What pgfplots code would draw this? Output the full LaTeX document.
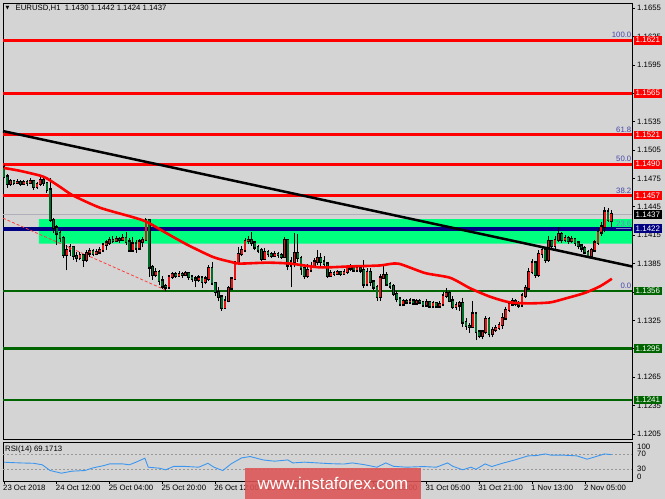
\documentclass[border=0pt]{standalone}
\usepackage{pgfplots}
\pgfplotsset{compat=1.18}
\usepackage{pgfplotstable}
\usepackage{fontspec}
\setmainfont{Liberation Sans}
\newfontfamily\dejavu{DejaVu Sans}
\definecolor{bg}{RGB}{212,212,212}
\definecolor{mtred}{RGB}{255,0,0}
\definecolor{mtgreen}{RGB}{0,100,0}
\definecolor{mtnavy}{RGB}{0,0,128}
\definecolor{spring}{RGB}{0,255,127}
\definecolor{bull}{RGB}{230,20,20}
\definecolor{bear}{RGB}{0,110,40}
\definecolor{fib}{RGB}{70,70,170}
\definecolor{rsiblue}{RGB}{60,150,240}
\definecolor{wm}{RGB}{222,84,84}
\definecolor{bidline}{RGB}{176,176,188}
\newcommand{\tfont}{\fontsize{7.8}{8.5}\selectfont}
\tikzset{
  fibl/.style={anchor=south east, text=fib, font=\tfont, inner sep=0.5bp, yshift=1.5bp},
  pbox/.style={anchor=west, fill=#1, text=white, font=\fontsize{8}{9}\selectfont, inner xsep=2bp, inner ysep=1.5bp, xshift=1.5bp},
}

\pgfplotstableread{
i o h l c
0 1.1486 1.1489 1.1475 1.1477
1 1.1477 1.1480 1.1465 1.1469
2 1.1469 1.1474 1.1467 1.1472
3 1.1472 1.1473 1.1468 1.1470
4 1.1470 1.1474 1.1469 1.1471
5 1.1471 1.1473 1.1467 1.1469
6 1.1469 1.1473 1.1468 1.1471
7 1.1471 1.1473 1.1467 1.1470
8 1.1470 1.1475 1.1469 1.1472
9 1.1472 1.1473 1.1463 1.1466
10 1.1466 1.1471 1.1464 1.1469
11 1.1469 1.1477 1.1467 1.1473
12 1.1473 1.1475 1.1467 1.1470
13 1.1470 1.1471 1.1460 1.1463
14 1.1463 1.1475 1.1429 1.1431
15 1.1431 1.1433 1.1417 1.1423
16 1.1423 1.1426 1.1405 1.1417
17 1.1417 1.1420 1.1408 1.1412
18 1.1412 1.1414 1.1391 1.1394
19 1.1394 1.1405 1.1378 1.1399
20 1.1399 1.1406 1.1393 1.1402
21 1.1402 1.1404 1.1389 1.1393
22 1.1393 1.1397 1.1387 1.1391
23 1.1391 1.1397 1.1389 1.1394
24 1.1394 1.1395 1.1381 1.1389
25 1.1389 1.1399 1.1387 1.1396
26 1.1396 1.1401 1.1392 1.1398
27 1.1398 1.1400 1.1393 1.1395
28 1.1395 1.1400 1.1394 1.1397
29 1.1397 1.1402 1.1395 1.1399
30 1.1399 1.1407 1.1397 1.1405
31 1.1405 1.1410 1.1399 1.1407
32 1.1407 1.1413 1.1405 1.1410
33 1.1410 1.1414 1.1407 1.1409
34 1.1409 1.1414 1.1408 1.1411
35 1.1411 1.1413 1.1407 1.1410
36 1.1410 1.1416 1.1409 1.1412
37 1.1412 1.1418 1.1405 1.1408
38 1.1408 1.1412 1.1397 1.1399
39 1.1399 1.1413 1.1398 1.1406
40 1.1406 1.1410 1.1396 1.1401
41 1.1401 1.1411 1.1400 1.1408
42 1.1408 1.1413 1.1402 1.1410
43 1.1410 1.1433 1.1409 1.1431
44 1.1431 1.1432 1.1371 1.1381
45 1.1381 1.1383 1.1368 1.1373
46 1.1373 1.1380 1.1371 1.1376
47 1.1376 1.1378 1.1362 1.1367
48 1.1367 1.1372 1.1358 1.1361
49 1.1361 1.1363 1.1356 1.1360
50 1.1360 1.1373 1.1358 1.1371
51 1.1371 1.1376 1.1369 1.1374
52 1.1374 1.1376 1.1370 1.1372
53 1.1372 1.1377 1.1371 1.1374
54 1.1374 1.1376 1.1370 1.1373
55 1.1373 1.1377 1.1372 1.1375
56 1.1375 1.1376 1.1368 1.1371
57 1.1371 1.1373 1.1366 1.1369
58 1.1369 1.1372 1.1360 1.1368
59 1.1368 1.1373 1.1366 1.1370
60 1.1370 1.1372 1.1359 1.1366
61 1.1366 1.1372 1.1363 1.1369
62 1.1369 1.1383 1.1367 1.1380
63 1.1380 1.1387 1.1362 1.1364
64 1.1364 1.1366 1.1351 1.1355
65 1.1355 1.1360 1.1345 1.1350
66 1.1350 1.1352 1.1335 1.1338
67 1.1338 1.1351 1.1337 1.1346
68 1.1346 1.1361 1.1344 1.1359
69 1.1359 1.1371 1.1357 1.1369
70 1.1369 1.1388 1.1368 1.1386
71 1.1386 1.1402 1.1385 1.1395
72 1.1395 1.1404 1.1393 1.1399
73 1.1399 1.1412 1.1397 1.1409
74 1.1409 1.1414 1.1406 1.1410
75 1.1410 1.1418 1.1404 1.1407
76 1.1407 1.1409 1.1399 1.1402
77 1.1402 1.1405 1.1396 1.1399
78 1.1399 1.1401 1.1388 1.1390
79 1.1390 1.1401 1.1389 1.1397
80 1.1397 1.1399 1.1392 1.1395
81 1.1395 1.1397 1.1391 1.1393
82 1.1393 1.1398 1.1392 1.1395
83 1.1395 1.1397 1.1391 1.1394
84 1.1394 1.1396 1.1390 1.1392
85 1.1392 1.1413 1.1391 1.1410
86 1.1410 1.1411 1.1378 1.1383
87 1.1383 1.1392 1.1360 1.1387
88 1.1387 1.1417 1.1381 1.1396
89 1.1396 1.1416 1.1387 1.1391
90 1.1391 1.1393 1.1373 1.1380
91 1.1380 1.1382 1.1369 1.1372
92 1.1372 1.1385 1.1370 1.1378
93 1.1378 1.1387 1.1376 1.1382
94 1.1382 1.1391 1.1380 1.1387
95 1.1387 1.1399 1.1383 1.1391
96 1.1391 1.1396 1.1382 1.1387
97 1.1387 1.1393 1.1382 1.1385
98 1.1385 1.1387 1.1370 1.1372
99 1.1372 1.1378 1.1371 1.1375
100 1.1375 1.1377 1.1372 1.1374
101 1.1374 1.1378 1.1373 1.1376
102 1.1376 1.1377 1.1372 1.1374
103 1.1374 1.1379 1.1373 1.1376
104 1.1376 1.1383 1.1374 1.1380
105 1.1380 1.1385 1.1377 1.1381
106 1.1381 1.1382 1.1376 1.1378
107 1.1378 1.1383 1.1377 1.1380
108 1.1380 1.1382 1.1375 1.1378
109 1.1378 1.1389 1.1359 1.1363
110 1.1363 1.1380 1.1361 1.1376
111 1.1376 1.1380 1.1361 1.1366
112 1.1366 1.1367 1.1357 1.1360
113 1.1360 1.1362 1.1346 1.1350
114 1.1350 1.1374 1.1346 1.1370
115 1.1370 1.1382 1.1369 1.1373
116 1.1373 1.1376 1.1361 1.1363
117 1.1363 1.1366 1.1358 1.1361
118 1.1361 1.1363 1.1351 1.1353
119 1.1353 1.1356 1.1344 1.1348
120 1.1348 1.1350 1.1340 1.1342
121 1.1342 1.1348 1.1341 1.1345
122 1.1345 1.1348 1.1342 1.1344
123 1.1344 1.1349 1.1343 1.1346
124 1.1346 1.1348 1.1341 1.1343
125 1.1343 1.1348 1.1342 1.1345
126 1.1345 1.1348 1.1342 1.1344
127 1.1344 1.1346 1.1339 1.1341
128 1.1341 1.1348 1.1340 1.1344
129 1.1344 1.1346 1.1338 1.1340
130 1.1340 1.1346 1.1339 1.1343
131 1.1343 1.1344 1.1338 1.1340
132 1.1340 1.1346 1.1339 1.1342
133 1.1342 1.1355 1.1341 1.1351
134 1.1351 1.1359 1.1349 1.1354
135 1.1354 1.1356 1.1344 1.1346
136 1.1346 1.1351 1.1337 1.1339
137 1.1339 1.1344 1.1336 1.1341
138 1.1341 1.1346 1.1335 1.1343
139 1.1343 1.1349 1.1318 1.1323
140 1.1323 1.1327 1.1315 1.1319
141 1.1319 1.1322 1.1312 1.1318
142 1.1318 1.1346 1.1317 1.1332
143 1.1332 1.1334 1.1304 1.1313
144 1.1313 1.1315 1.1306 1.1309
145 1.1309 1.1315 1.1305 1.1313
146 1.1313 1.1330 1.1311 1.1326
147 1.1326 1.1329 1.1307 1.1311
148 1.1311 1.1318 1.1307 1.1315
149 1.1315 1.1320 1.1313 1.1317
150 1.1317 1.1323 1.1315 1.1320
151 1.1320 1.1333 1.1316 1.1327
152 1.1327 1.1339 1.1325 1.1336
153 1.1336 1.1344 1.1334 1.1342
154 1.1342 1.1349 1.1340 1.1345
155 1.1345 1.1348 1.1340 1.1343
156 1.1343 1.1346 1.1338 1.1341
157 1.1341 1.1354 1.1339 1.1351
158 1.1351 1.1362 1.1349 1.1359
159 1.1359 1.1380 1.1357 1.1376
160 1.1376 1.1390 1.1374 1.1386
161 1.1386 1.1388 1.1370 1.1373
162 1.1373 1.1399 1.1371 1.1395
163 1.1395 1.1404 1.1391 1.1399
164 1.1399 1.1401 1.1386 1.1389
165 1.1389 1.1414 1.1387 1.1409
166 1.1409 1.1410 1.1399 1.1404
167 1.1404 1.1414 1.1399 1.1410
168 1.1410 1.1424 1.1408 1.1416
169 1.1416 1.1418 1.1407 1.1410
170 1.1410 1.1415 1.1408 1.1412
171 1.1412 1.1414 1.1406 1.1409
172 1.1409 1.1414 1.1407 1.1411
173 1.1411 1.1412 1.1404 1.1407
174 1.1407 1.1408 1.1400 1.1404
175 1.1404 1.1406 1.1397 1.1401
176 1.1401 1.1404 1.1395 1.1397
177 1.1397 1.1399 1.1391 1.1393
178 1.1393 1.1401 1.1392 1.1399
179 1.1399 1.1410 1.1397 1.1407
180 1.1407 1.1423 1.1405 1.1418
181 1.1418 1.1429 1.1414 1.1424
182 1.1424 1.1445 1.1418 1.1440
183 1.1440 1.1444 1.1429 1.1431
184 1.1430 1.1442 1.1424 1.1437
}\candles

\pgfplotstableread{
i rsi
0 49
2 48
5 47
9 46
11.6 42
14 26.7
17.4 19.6
20.6 25
24.5 26.7
27 33.8
30.3 40
32 44.4
36 44.4
38 42
40 49
42.7 59.6
43.7 35.6
47 33
49 28.7
51.5 38
55 37.6
59 35.6
61.8 46
63.6 35.6
66.3 26.7
68.8 44.4
72 60.4
74.6 64
78.5 55
82 51.6
86 55
87.5 47
91 49
95 47
99 45
103 44
105.5 47
109 42.6
113 35.6
115.7 47
118 38
122 35.6
127 37.3
131 35.6
134.4 47
136 38
139 28.7
141.5 35.6
143 30
145.8 44.4
147.8 37.3
151 46
154.8 55
158.8 65.8
161.4 66.7
164 71
165.8 67.6
169.7 67.6
173.6 65.8
176.7 56.9
179.4 64
182 71
184 69.2
}\rsidata

\pgfplotstableread{
i ma
0 1.1486
4.8 1.1483
10.9 1.1478
13 1.1475
17 1.1466
20.9 1.1457
29.1 1.1444
39.1 1.1434
43.3 1.1429
48.8 1.1418
55.5 1.1405
63.3 1.1392
68.5 1.1387
71.5 1.1385
79.7 1.1386
86.7 1.1385
95.8 1.1381
104.8 1.1382
113.9 1.1383
119.4 1.1385
127.6 1.1375
135.2 1.1370
141.2 1.1359
147.3 1.1350
153.3 1.1344
159.4 1.1343
165.5 1.1344
170 1.1348
176 1.1354
180.6 1.1361
184.2 1.1369
}\madata

\begin{document}
\begin{tikzpicture}[x=1bp,y=1bp]
\fill[bg] (0,0) rectangle (665,499);

% ---------------- main price panel ----------------
\begin{axis}[
  at={(3bp,60bp)}, anchor=south west, scale only axis,
  width=629bp, height=436bp,
  xmin=-0.3, xmax=190.3, ymin=1.11997, ymax=1.16603,
  clip=false,
  axis line style={black, line width=0.8bp},
  xtick=\empty,
  ytick={1.1205,1.1235,1.1265,1.1295,1.1325,1.1355,1.1385,1.1415,1.1445,1.1475,1.1505,1.1535,1.1565,1.1595,1.1625,1.1655},
  ytick pos=right, yticklabel pos=right,
  tick align=outside, major tick length=3bp,
  tick style={black, line width=0.6bp},
  scaled y ticks=false,
  yticklabel style={font=\tfont, inner sep=0pt, xshift=2bp,
    /pgf/number format/fixed, /pgf/number format/fixed zerofill,
    /pgf/number format/precision=4, /pgf/number format/assume math mode=true},
]
% support band
\addplot[fill=spring, draw=none, forget plot] coordinates {(10.6,1.1406) (190.3,1.1406) (190.3,1.1432) (10.6,1.1432) (10.6,1.1406)};
% horizontal levels
\addplot[mtred, line width=2.7bp, forget plot] coordinates {(-0.3,1.1621) (190.3,1.1621)};
\addplot[mtred, line width=2.7bp, forget plot] coordinates {(-0.3,1.1565) (190.3,1.1565)};
\addplot[mtred, line width=2.7bp, forget plot] coordinates {(-0.3,1.1521) (190.3,1.1521)};
\addplot[mtred, line width=2.7bp, forget plot] coordinates {(-0.3,1.1490) (190.3,1.1490)};
\addplot[mtred, line width=2.7bp, forget plot] coordinates {(-0.3,1.1457) (190.3,1.1457)};
\addplot[mtgreen, line width=2.7bp, forget plot] coordinates {(-0.3,1.1356) (190.3,1.1356)};
\addplot[mtgreen, line width=2.7bp, forget plot] coordinates {(-0.3,1.1295) (190.3,1.1295)};
\addplot[mtgreen, line width=2.7bp, forget plot] coordinates {(-0.3,1.1241) (190.3,1.1241)};
\addplot[bidline, line width=1.5bp, forget plot] coordinates {(-0.3,1.1437) (190.3,1.1437)};
\addplot[mtnavy, line width=4bp, forget plot] coordinates {(-0.3,1.1422) (190.3,1.1422)};
% dashed red channel line
\addplot[red!75!white, line width=0.8bp, dash pattern=on 3bp off 2bp, forget plot] coordinates {(-0.3,1.1433) (49,1.1357)};
% candles: wicks
\addplot[draw=none, forget plot, error bars/.cd, y dir=plus, y explicit, error mark=none,
  error bar style={draw=black, line width=0.8bp}]
  table[x=i, y=l, y error plus expr={\thisrow{h}-\thisrow{l}}] {\candles};
% candle bodies outline
\addplot[draw=none, forget plot, error bars/.cd, y dir=plus, y explicit, error mark=none,
  error bar style={draw=black, line width=2.7bp, line cap=rect}]
  table[x=i, y expr={min(\thisrow{o},\thisrow{c})}, y error plus expr={abs(\thisrow{c}-\thisrow{o})}] {\candles};
% bull bodies
\addplot[draw=none, forget plot, x filter/.expression={\thisrow{c}>\thisrow{o} ? x : nan},
  error bars/.cd, y dir=plus, y explicit, error mark=none,
  error bar style={draw=bull, line width=1.8bp}]
  table[x=i, y=o, y error plus expr={\thisrow{c}-\thisrow{o}}] {\candles};
% bear bodies
\addplot[draw=none, forget plot, x filter/.expression={\thisrow{c}<\thisrow{o} ? x : nan},
  error bars/.cd, y dir=plus, y explicit, error mark=none,
  error bar style={draw=bear, line width=1.8bp}]
  table[x=i, y=c, y error plus expr={\thisrow{o}-\thisrow{c}}] {\candles};
% moving average
\addplot[mtred, line width=2.6bp, smooth, tension=0.4, forget plot] table[x=i, y=ma] {\madata};
% trendline
\addplot[black, line width=2.5bp, forget plot] coordinates {(-0.3,1.1525) (190.3,1.1382)};

% fib labels
\node[fibl] at (axis cs:190.3,1.1621) {100.0};
\node[fibl] at (axis cs:190.3,1.1521) {61.8};
\node[fibl] at (axis cs:190.3,1.1490) {50.0};
\node[fibl] at (axis cs:190.3,1.1457) {38.2};
\node[fibl] at (axis cs:190.3,1.1356) {0.0};
\node[fibl, text=fib!70!white, yshift=-2.5bp] at (axis cs:190.3,1.1422) {\underline{23.6}};
% right-hand price boxes
\node[pbox=mtred] at (axis cs:190.3,1.1621) {1.1621};
\node[pbox=mtred] at (axis cs:190.3,1.1565) {1.1565};
\node[pbox=mtred] at (axis cs:190.3,1.1521) {1.1521};
\node[pbox=mtred] at (axis cs:190.3,1.1490) {1.1490};
\node[pbox=mtred] at (axis cs:190.3,1.1457) {1.1457};
\node[pbox=mtgreen] at (axis cs:190.3,1.1356) {1.1356};
\node[pbox=mtgreen] at (axis cs:190.3,1.1295) {1.1295};
\node[pbox=mtgreen] at (axis cs:190.3,1.1241) {1.1241};
\node[pbox=black] at (axis cs:190.3,1.1437) {1.1437};
\node[pbox=mtnavy] at (axis cs:190.3,1.1422) {1.1422};
\end{axis}

% ---------------- RSI panel ----------------
\begin{axis}[
  at={(3bp,18bp)}, anchor=south west, scale only axis,
  width=629bp, height=39bp,
  xmin=-0.3, xmax=190.3, ymin=-1.2, ymax=102.8,
  clip=false,
  axis line style={black, line width=0.8bp},
  ytick=\empty,
  xtick={0,16,32,48,64,80,96,112,128,144,160,176},
  xticklabels={23 Oct 2018,24 Oct 12:00,25 Oct 04:00,25 Oct 20:00,26 Oct 12:00,29 Oct 05:00,29 Oct 21:00,30 Oct 13:00,31 Oct 05:00,31 Oct 21:00,1 Nov 13:00,2 Nov 05:00},
  xtick pos=bottom,
  tick align=outside, major tick length=3bp,
  tick style={black, line width=0.6bp},
  xticklabel style={font=\tfont, anchor=north west, inner sep=0pt, xshift=-1bp, yshift=-1bp},
]
\addplot[gray!80, line width=0.5bp, dash pattern=on 2bp off 2bp, forget plot] coordinates {(-0.3,70) (190.3,70)};
\addplot[gray!80, line width=0.5bp, dash pattern=on 2bp off 2bp, forget plot] coordinates {(-0.3,30) (190.3,30)};
\addplot[rsiblue, line width=0.9bp, forget plot] table[x=i, y=rsi] {\rsidata};
\end{axis}

% texts outside axes
\node[anchor=west, inner sep=0pt] at (5.5,491) {\dejavu\fontsize{5}{5}\selectfont ▼};
\node[anchor=west, font=\tfont, inner sep=0pt] at (15.5,491) {EURUSD,H1\ \ 1.1430 1.1442 1.1424 1.1437};
\node[anchor=west, font=\tfont, inner sep=0pt] at (5,49.5) {RSI(14) 69.1713};
\node[anchor=west, font=\tfont, inner sep=0pt] at (637,52) {100};
\node[anchor=west, font=\tfont, inner sep=0pt] at (637,45) {70};
\node[anchor=west, font=\tfont, inner sep=0pt] at (637,30) {30};
\node[anchor=west, font=\tfont, inner sep=0pt] at (637,22) {0};

% watermark (semi-transparent, as in the reference)
\fill[wm, opacity=0.88] (245,0) rectangle (421,31);
\node[text=white, font=\fontsize{17}{17}\selectfont, inner sep=0pt] at (333,16) {www.instaforex.com};

\pgfresetboundingbox
\useasboundingbox (0,0) rectangle (665,499);
\end{tikzpicture}
\end{document}
